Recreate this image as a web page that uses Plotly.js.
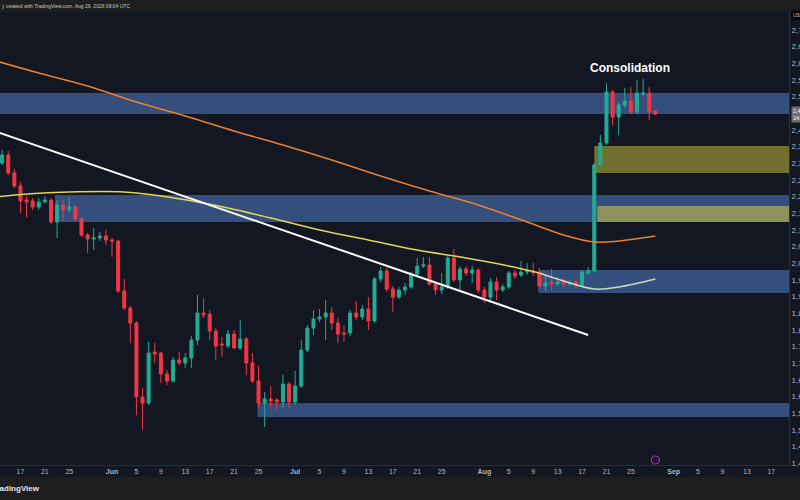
<!DOCTYPE html>
<html>
<head>
<meta charset="utf-8">
<script src="https://cdn.plot.ly/plotly-3.0.1.min.js"></script>
<style>
html,body{margin:0;padding:0;background:#131722;}
#chart{width:800px;height:500px;}
</style>
</head>
<body>
<div id="chart"></div>
<script>
// ---- daily candles ----
const dates = [
"2025-05-14","2025-05-15","2025-05-16","2025-05-17","2025-05-18","2025-05-19","2025-05-20","2025-05-21","2025-05-22","2025-05-23","2025-05-24","2025-05-25","2025-05-26","2025-05-27","2025-05-28","2025-05-29","2025-05-30","2025-05-31",
"2025-06-01","2025-06-02","2025-06-03","2025-06-04","2025-06-05","2025-06-06","2025-06-07","2025-06-08","2025-06-09","2025-06-10","2025-06-11","2025-06-12","2025-06-13","2025-06-14","2025-06-15","2025-06-16","2025-06-17","2025-06-18","2025-06-19","2025-06-20","2025-06-21","2025-06-22","2025-06-23","2025-06-24","2025-06-25","2025-06-26","2025-06-27","2025-06-28","2025-06-29","2025-06-30",
"2025-07-01","2025-07-02","2025-07-03","2025-07-04","2025-07-05","2025-07-06","2025-07-07","2025-07-08","2025-07-09","2025-07-10","2025-07-11","2025-07-12","2025-07-13","2025-07-14","2025-07-15","2025-07-16","2025-07-17","2025-07-18","2025-07-19","2025-07-20","2025-07-21","2025-07-22","2025-07-23","2025-07-24","2025-07-25","2025-07-26","2025-07-27","2025-07-28","2025-07-29","2025-07-30","2025-07-31",
"2025-08-01","2025-08-02","2025-08-03","2025-08-04","2025-08-05","2025-08-06","2025-08-07","2025-08-08","2025-08-09","2025-08-10","2025-08-11","2025-08-12","2025-08-13","2025-08-14","2025-08-15","2025-08-16","2025-08-17","2025-08-18","2025-08-19","2025-08-20","2025-08-21","2025-08-22","2025-08-23","2025-08-24","2025-08-25","2025-08-26","2025-08-27","2025-08-28","2025-08-29"];

const opens = [
2.301,2.325,2.271,2.232,2.190,2.187,2.169,2.184,2.190,2.124,2.175,2.160,2.169,2.133,2.085,2.073,2.076,2.082,
2.070,2.067,1.917,1.866,1.821,1.599,1.581,1.734,1.731,1.668,1.647,1.710,1.701,1.716,1.770,1.851,1.848,1.797,1.758,1.752,1.788,1.746,1.773,1.701,1.647,1.581,1.593,1.590,1.584,1.638,
1.584,1.632,1.740,1.806,1.833,1.839,1.851,1.821,1.791,1.791,1.851,1.839,1.863,1.827,1.953,1.977,1.923,1.899,1.920,1.929,1.968,1.992,1.995,1.938,1.920,1.929,2.016,1.950,1.983,1.971,1.980,
1.920,1.899,1.944,1.920,1.929,1.971,1.965,1.974,1.977,1.971,1.932,1.944,1.938,1.947,1.938,1.944,1.932,1.971,1.977,2.295,2.361,2.514,2.439,2.475,2.487,2.454,2.508,2.511,2.457];

const highs = [
2.340,2.337,2.283,2.244,2.202,2.196,2.196,2.202,2.196,2.190,2.190,2.199,2.175,2.139,2.091,2.106,2.094,2.100,
2.076,2.070,1.953,1.872,1.827,1.626,1.764,1.761,1.734,1.680,1.719,1.734,1.731,1.782,1.905,1.896,1.860,1.806,1.779,1.800,1.800,1.830,1.779,1.731,1.692,1.614,1.632,1.596,1.665,1.644,
1.677,1.770,1.815,1.860,1.863,1.890,1.869,1.836,1.815,1.860,1.887,1.875,1.899,1.959,1.989,1.986,1.932,1.929,1.941,1.974,2.016,2.019,2.019,1.944,1.971,2.025,2.043,1.992,1.992,1.992,1.986,
1.929,1.956,1.959,1.938,1.977,1.980,2.007,2.001,2.001,1.986,1.965,1.983,1.959,1.956,1.950,1.953,1.980,1.989,2.301,2.385,2.541,2.520,2.484,2.526,2.529,2.550,2.553,2.529,2.460];

const lows = [
2.295,2.265,2.226,2.151,2.139,2.160,2.160,2.181,2.118,2.076,2.127,2.154,2.127,2.079,2.031,2.040,2.067,2.055,
2.019,1.911,1.860,1.761,1.545,1.500,1.575,1.701,1.641,1.635,1.641,1.695,1.686,1.686,1.755,1.836,1.770,1.710,1.719,1.746,1.743,1.740,1.665,1.641,1.566,1.509,1.569,1.560,1.566,1.566,
1.575,1.626,1.734,1.785,1.824,1.770,1.800,1.761,1.764,1.782,1.830,1.830,1.800,1.821,1.944,1.914,1.854,1.893,1.905,1.923,1.962,1.986,1.932,1.905,1.908,1.923,1.944,1.920,1.962,1.941,1.911,
1.881,1.890,1.890,1.914,1.923,1.953,1.959,1.965,1.962,1.923,1.917,1.920,1.932,1.929,1.932,1.926,1.926,1.965,1.971,2.289,2.355,2.415,2.385,2.466,2.448,2.448,2.502,2.430,2.445];

const closes = [
2.325,2.271,2.232,2.187,2.184,2.169,2.184,2.190,2.124,2.175,2.160,2.169,2.133,2.085,2.073,2.076,2.082,2.070,
2.067,1.917,1.866,1.821,1.599,1.581,1.731,1.728,1.668,1.647,1.710,1.701,1.716,1.770,1.851,1.845,1.797,1.752,1.755,1.788,1.746,1.773,1.701,1.647,1.581,1.593,1.587,1.584,1.638,1.584,
1.632,1.740,1.806,1.833,1.839,1.851,1.821,1.788,1.788,1.851,1.839,1.863,1.827,1.953,1.977,1.923,1.899,1.920,1.929,1.968,1.992,1.995,1.938,1.920,1.929,2.016,1.950,1.983,1.971,1.980,1.920,
1.899,1.944,1.920,1.929,1.971,1.962,1.974,1.977,1.971,1.932,1.941,1.938,1.944,1.938,1.941,1.932,1.974,1.977,2.295,2.361,2.514,2.439,2.475,2.487,2.454,2.511,2.511,2.454,2.448];

// ---- moving averages ----
const slowMaDates = ["2025-05-13","2025-05-20","2025-05-28","2025-06-05","2025-06-13","2025-06-21","2025-06-29","2025-07-07","2025-07-15","2025-07-23","2025-07-31","2025-08-08","2025-08-14","2025-08-19","2025-08-23","2025-08-29"];
const slowMaValues = [2.607,2.571,2.532,2.484,2.442,2.397,2.355,2.310,2.262,2.217,2.175,2.124,2.085,2.064,2.067,2.082];

const fastMaDates = ["2025-05-13","2025-05-18","2025-05-25","2025-06-03","2025-06-09","2025-06-15","2025-06-20","2025-06-27","2025-07-05","2025-07-13","2025-07-21","2025-07-29","2025-08-05","2025-08-10"];
const fastMaValues = [2.199,2.208,2.214,2.214,2.202,2.184,2.166,2.136,2.100,2.070,2.040,2.016,1.992,1.971];
const fastMaTailDates = ["2025-08-10","2025-08-14","2025-08-19","2025-08-23","2025-08-29"];
const fastMaTailValues = [1.971,1.947,1.923,1.929,1.953];

// ---- trend line ----
const trendDates = ["2025-05-13","2025-08-18"];
const trendValues = [2.395,1.785];

// ---- zones ----
const zoneStart = ["2025-05-01","2025-08-19","2025-05-22 16:00","2025-08-19 12:00","2025-08-09 20:00","2025-06-24 20:00"];
const zoneLow   = [2.448,2.271,2.124,2.124,1.911,1.539];
const zoneHigh  = [2.511,2.352,2.205,2.172,1.980,1.581];
const zoneKind  = ["blue","olive","blue","paleolive","blue","blue"];
const zoneEnd = "2025-10-01";

// ---- axis ticks (2,45 sits under the last-price label) ----
const yTickVals = [1.40,1.45,1.50,1.55,1.60,1.65,1.70,1.75,1.80,1.85,1.90,1.95,2.00,2.05,2.10,2.15,2.20,2.25,2.30,2.35,2.40,2.50,2.55,2.60,2.65,2.70];
const yTickText = ["1,40","1,45","1,50","1,55","1,60","1,65","1,70","1,75","1,80","1,85","1,90","1,95","2,00","2,05","2,10","2,15","2,20","2,25","2,30","2,35","2,40","2,50","2,55","2,60","2,65","2,70"];
const xTickVals = ["2025-05-17","2025-05-21","2025-05-25","2025-06-01","2025-06-05","2025-06-09","2025-06-13","2025-06-17","2025-06-21","2025-06-25","2025-07-01","2025-07-05","2025-07-09","2025-07-13","2025-07-17","2025-07-21","2025-07-25","2025-08-01","2025-08-05","2025-08-09","2025-08-13","2025-08-17","2025-08-21","2025-08-25","2025-09-01","2025-09-05","2025-09-09","2025-09-13","2025-09-17"];
const xTickText = ["17","21","25","<b>Jun</b>","5","9","13","17","21","25","<b>Jul</b>","5","9","13","17","21","25","<b>Aug</b>","5","9","13","17","21","25","<b>Sep</b>","5","9","13","17"];

const lastPrice = closes[closes.length-1];

const zoneColors = {
  blue: "rgba(58,88,138,0.88)",
  olive: "rgba(122,120,48,0.92)",
  paleolive: "rgba(150,152,90,0.92)"
};

const shapes = [];
for (let i = 0; i < zoneStart.length; i++) {
  shapes.push({type:"rect", xref:"x", yref:"y", x0:zoneStart[i], x1:zoneEnd,
    y0:zoneLow[i], y1:zoneHigh[i], fillcolor:zoneColors[zoneKind[i]], line:{width:0}, layer:"below"});
}
// header / footer strips
shapes.push({type:"rect", xref:"paper", yref:"paper", x0:-0.02, x1:1.03, y0:1, y1:1.04, fillcolor:"#1e1e1e", line:{width:0}, layer:"above"});
shapes.push({type:"rect", xref:"paper", yref:"paper", x0:-0.02, x1:1.03, y0:-0.0265, y1:-0.09, fillcolor:"#1e1e1e", line:{width:0}, layer:"above"});
// event icon
shapes.push({type:"circle", xref:"x", yref:"paper", x0:"2025-08-28 08:00", x1:"2025-08-29 16:00", y0:0.0022, y1:0.0199, fillcolor:"#2a1235", line:{color:"#b03ac8", width:1}, layer:"above"});

const traces = [
  {type:"candlestick", x:dates, open:opens, high:highs, low:lows, close:closes,
   increasing:{line:{color:"#22ab94", width:1}, fillcolor:"#22ab94"},
   decreasing:{line:{color:"#f23645", width:1}, fillcolor:"#f23645"},
   whiskerwidth:0, hoverinfo:"skip", showlegend:false},
  {type:"scatter", mode:"lines", x:slowMaDates, y:slowMaValues,
   line:{color:"#e8802c", width:1.5, shape:"spline", smoothing:1}, hoverinfo:"skip", showlegend:false},
  {type:"scatter", mode:"lines", x:fastMaDates, y:fastMaValues,
   line:{color:"#e3d45a", width:1.5, shape:"spline", smoothing:1}, hoverinfo:"skip", showlegend:false},
  {type:"scatter", mode:"lines", x:fastMaTailDates, y:fastMaTailValues,
   line:{color:"#c9dcc0", width:1.5, shape:"spline", smoothing:1}, hoverinfo:"skip", showlegend:false},
  {type:"scatter", mode:"lines", x:trendDates, y:trendValues,
   line:{color:"#ffffff", width:2}, hoverinfo:"skip", showlegend:false}
];

const layout = {
  width:800, height:500,
  margin:{l:0, r:11, t:12, b:35, pad:0},
  paper_bgcolor:"#131722", plot_bgcolor:"#131722",
  font:{family:"Liberation Sans, Arial, sans-serif", color:"#b2b5be"},
  showlegend:false,
  xaxis:{type:"date", range:["2025-05-13 15:36","2025-09-19 21:36"],
    rangeslider:{visible:false}, showgrid:false, zeroline:false,
    tickmode:"array", tickvals:xTickVals, ticktext:xTickText,
    tickfont:{size:7, color:"#b2b5be"}, ticks:"", showline:true, linecolor:"#2a2e39", linewidth:1},
  yaxis:{side:"right", range:[1.395,2.754], showgrid:false, zeroline:false,
    tickmode:"array", tickvals:yTickVals, ticktext:yTickText,
    tickfont:{size:8, color:"#b2b5be"}, ticks:"", showline:true, linecolor:"#2a2e39", linewidth:1},
  shapes:shapes,
  annotations:[
    {xref:"x", yref:"y", x:"2025-08-24 21:00", y:2.586, text:"<b>Consolidation</b>", showarrow:false,
     font:{size:12, color:"#ffffff", family:"Liberation Sans, Arial, sans-serif"}, xanchor:"center", yanchor:"middle"},
    {xref:"paper", yref:"paper", x:0, y:1.0132, text:"y created with TradingView.com, Aug 29, 2026 08:04 UTC", showarrow:false,
     font:{size:5, color:"#c8c8c8"}, xanchor:"left", yanchor:"middle"},
    {xref:"paper", yref:"paper", x:-0.013, y:-0.0508, text:"<b>TradingView</b>", showarrow:false,
     font:{size:8, color:"#e6e6e6"}, xanchor:"left", yanchor:"middle"},
    {xref:"paper", yref:"y", x:1.003, y:lastPrice, text:"2,448<br>14:55", showarrow:false,
     font:{size:5.5, color:"#ffffff"}, bgcolor:"#6b6e78", borderpad:1, xanchor:"left", yanchor:"middle"},
    {xref:"paper", yref:"paper", x:1.003, y:0.993, text:"USD", showarrow:false,
     font:{size:5, color:"#d1d4dc"}, bgcolor:"#000000", borderpad:1, xanchor:"left", yanchor:"middle"}
  ]
};

Plotly.newPlot("chart", traces, layout, {staticPlot:true, displayModeBar:false});
</script>
</body>
</html>
